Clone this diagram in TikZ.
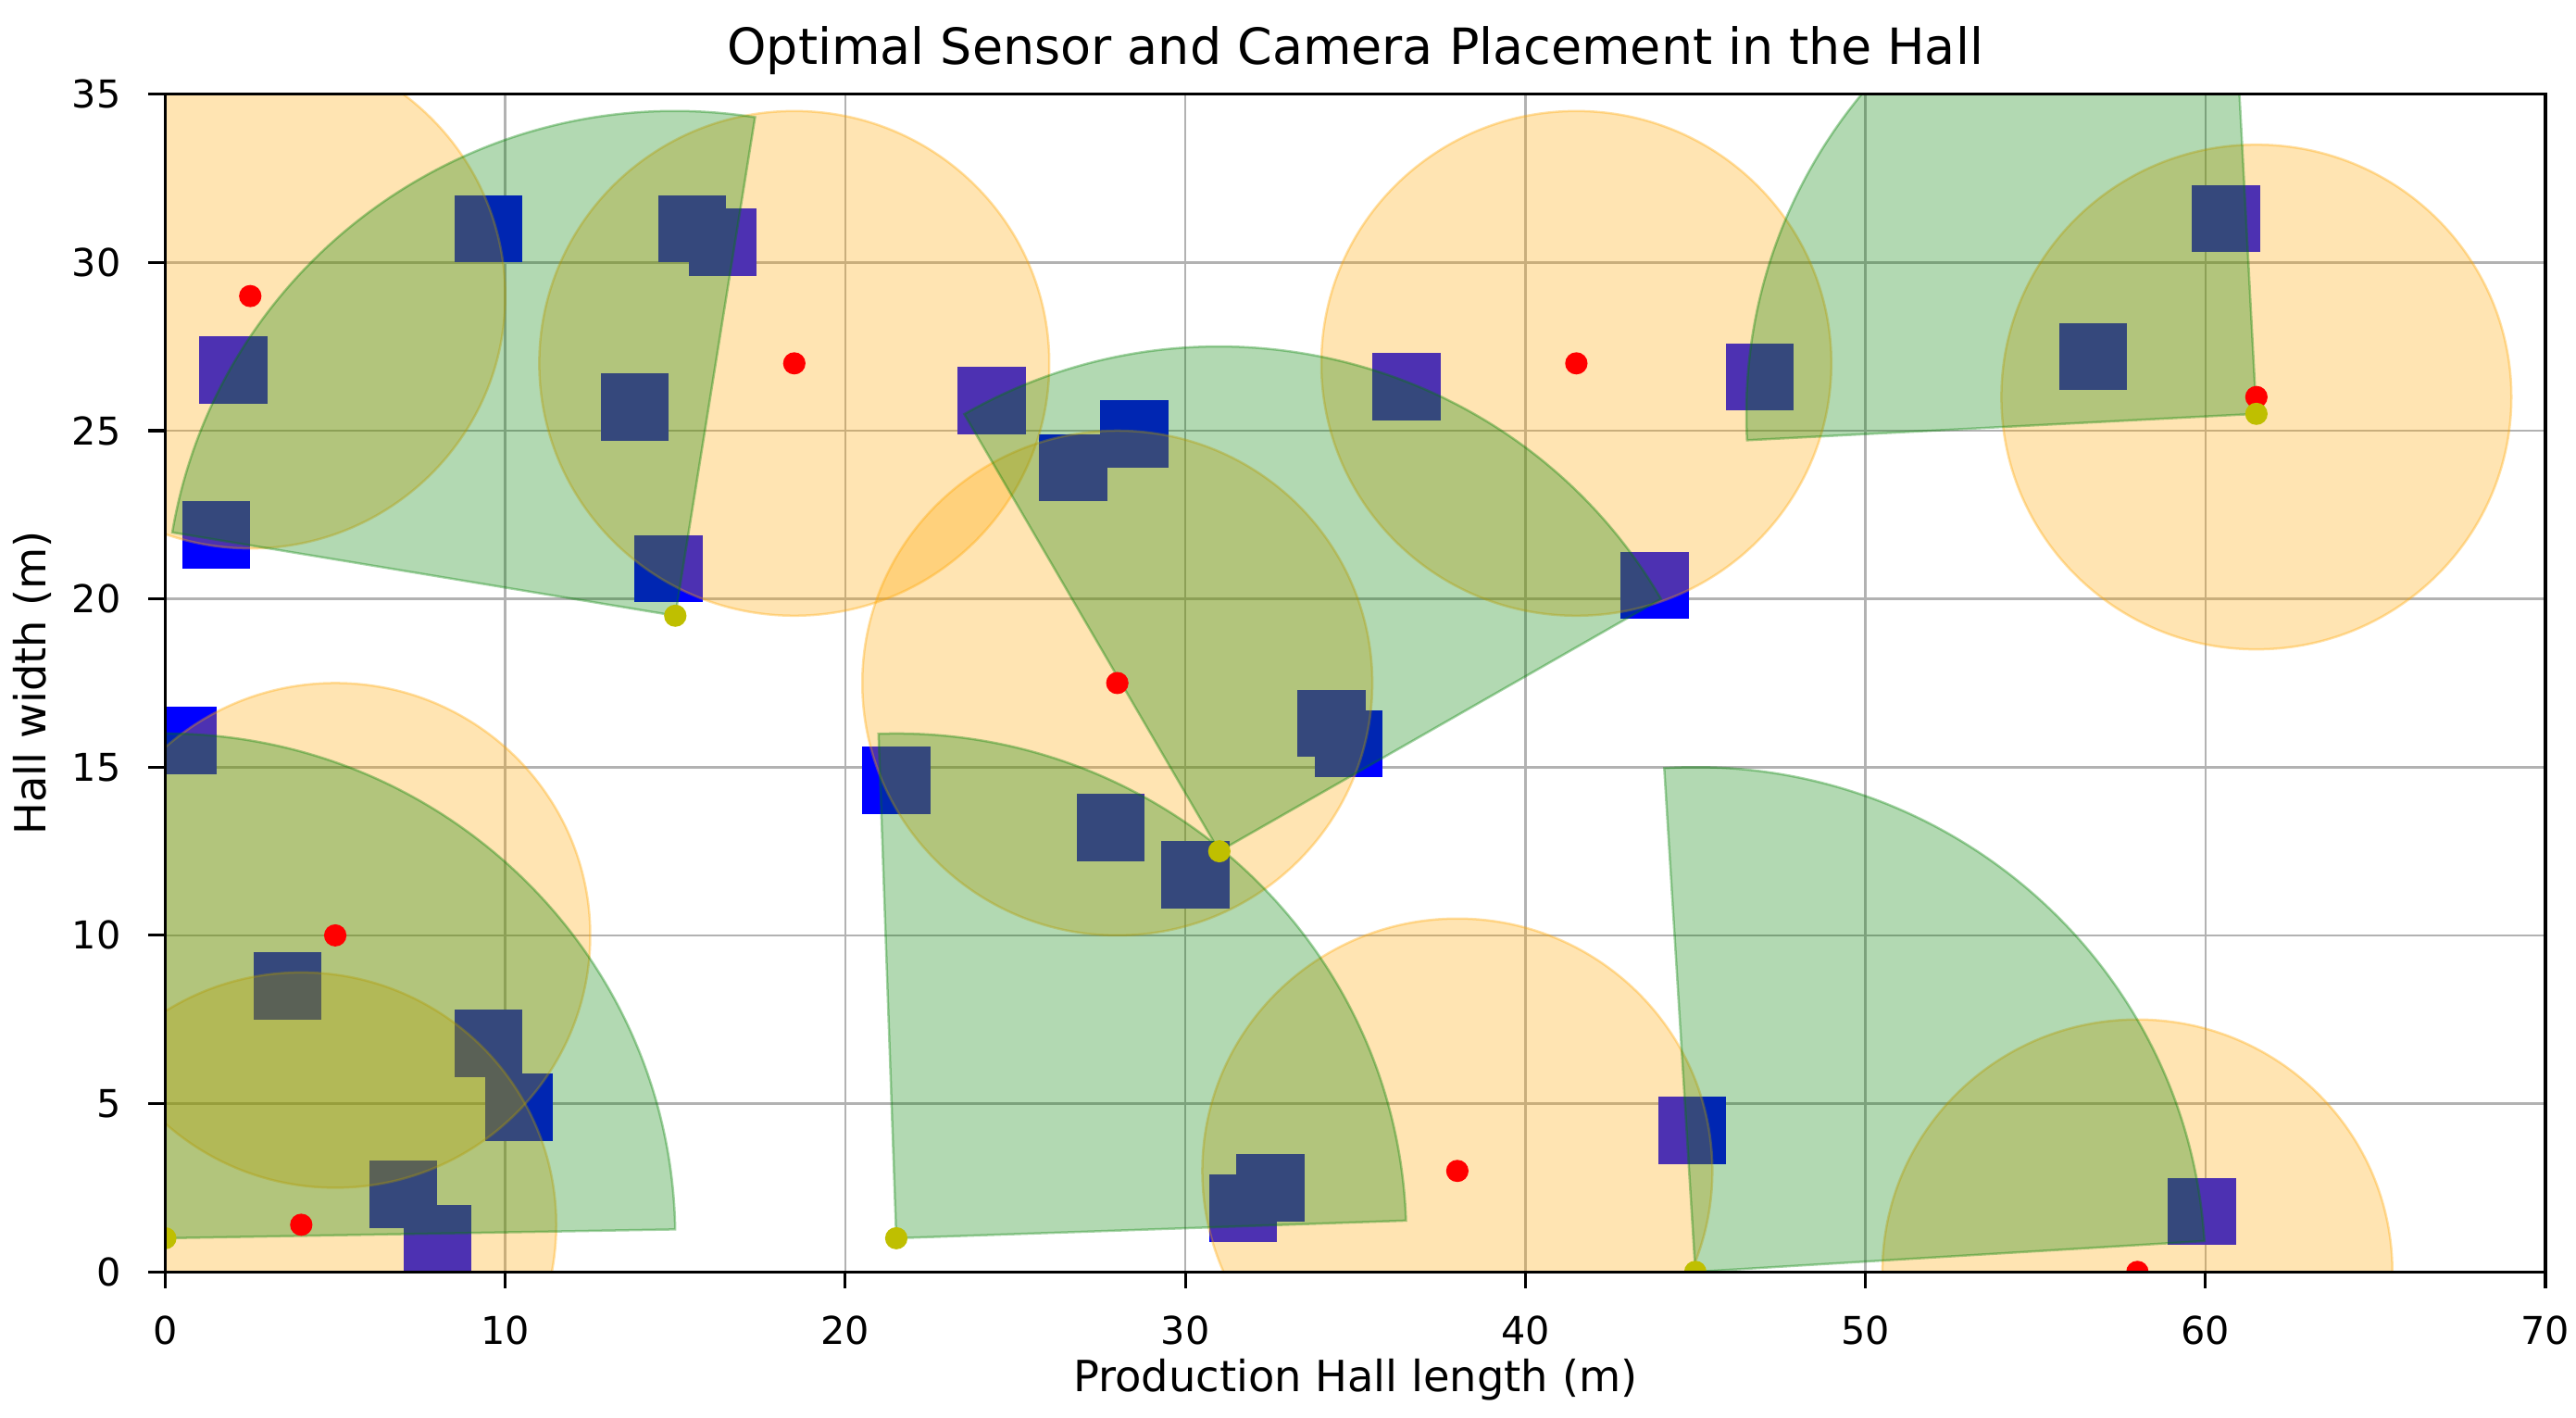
\documentclass[tikz,border=0pt]{standalone}
\usepackage{fontspec}
\setmainfont{DejaVu Sans}
\begin{document}
\begin{tikzpicture}[x=0.2059cm, y=0.2037cm,
  obstacle/.style={fill={rgb,255:red,0;green,0;blue,255}},
  sensor/.style={fill={rgb,255:red,255;green,165;blue,0}, fill opacity=0.3, draw={rgb,255:red,255;green,165;blue,0}, draw opacity=0.35, line width=0.4pt},
  camera/.style={fill={rgb,255:red,0;green,128;blue,0}, fill opacity=0.3, draw={rgb,255:red,0;green,128;blue,0}, draw opacity=0.35, line width=0.4pt},
  sdot/.style={fill=red},
  cdot/.style={fill={rgb,255:red,191;green,191;blue,0}},
  tick/.style={font=\fontsize{6.6}{7}\selectfont}]
\useasboundingbox (-4.86,-4.32) rectangle (70.9,37.8);

% grid
\foreach \x in {10,20,...,60} \draw[black!30, line width=0.4pt] (\x,0) -- (\x,35);
\foreach \y in {5,10,...,30} \draw[black!30, line width=0.4pt] (0,\y) -- (70,\y);

\begin{scope}
\clip (0,0) rectangle (70,35);
% obstacles
\foreach \x/\y in {9.5/31, 2/26.8, 1.5/21.9, 15.5/31, 16.4/30.6, 13.8/25.7, 14.8/20.9,
  24.3/25.9, 28.5/24.9, 26.7/23.9, 36.5/26.3, 46.9/26.6, 43.8/20.4, 56.7/27.2,
  60.6/31.3, 0.5/15.8, 21.5/14.6, 34.3/16.3, 34.8/15.7, 27.8/13.2, 30.3/11.8,
  3.6/8.5, 9.5/6.8, 10.4/4.9, 7/2.3, 8/1, 32.5/2.5, 31.7/1.9, 44.9/4.2, 59.9/1.8}
  \fill[obstacle] (\x-1,\y-1) rectangle (\x+1,\y+1);
% sensor ranges
\foreach \x/\y in {2.5/29, 18.5/27, 28/17.5, 41.5/27, 61.5/26, 5/10, 4/1.4, 38/3, 58/0}
  \filldraw[sensor] (\x,\y) circle (7.5);
% camera fields
\foreach \x/\y/\a/\b in {15/19.5/81/170.5, 31/12.5/30/120, 61.5/25.5/93/183,
  0/1/1/91, 21.5/1/2/92, 45/0/3.5/93.5}
  \filldraw[camera] (\x,\y) -- ++(\a:15) arc (\a:\b:15) -- cycle;
% sensors
\foreach \x/\y in {2.5/29, 18.5/27, 28/17.5, 41.5/27, 61.5/26, 5/10, 4/1.4, 38/3, 58/0}
  \fill[sdot] (\x,\y) circle (0.33);
% cameras
\foreach \x/\y in {15/19.5, 31/12.5, 61.5/25.5, 0/1, 21.5/1, 45/0}
  \fill[cdot] (\x,\y) circle (0.33);
\end{scope}

% axes
\draw[line width=0.5pt] (0,0) rectangle (70,35);
\foreach \x in {0,10,...,70} {
  \draw[line width=0.5pt] (\x,0) -- (\x,-0.5);
  \node[tick, anchor=north] (xt\x) at (\x,-0.7) {\x};
}
\foreach \y in {0,5,...,35} {
  \draw[line width=0.5pt] (0,\y) -- (-0.5,\y);
  \node[tick, anchor=east] (yt\y) at (-0.7,\y) {\y};
}
\node[font=\fontsize{7.4}{8}\selectfont] (xlabel) at (35,-3.2) {Production Hall length (m)};
\node[font=\fontsize{7.4}{8}\selectfont, rotate=90] (ylabel) at (-3.9,17.5) {Hall width (m)};
\node[font=\fontsize{8.6}{9}\selectfont] (title) at (35,36.3) {Optimal Sensor and Camera Placement in the Hall};
\end{tikzpicture}
\end{document}
